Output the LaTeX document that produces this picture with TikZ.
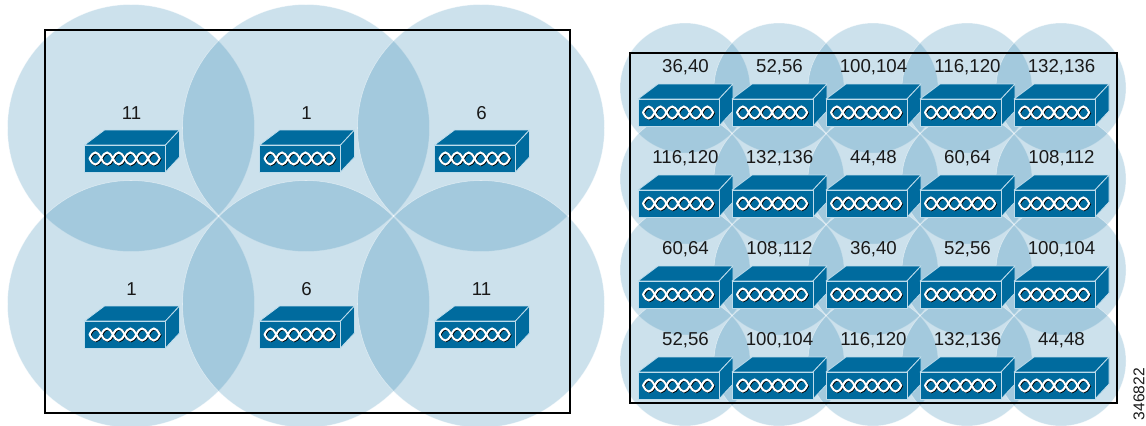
\documentclass[tikz,border=0pt]{standalone}
\usepackage{fontspec}
\setmainfont{Liberation Sans}
\definecolor{cellblue}{RGB}{0,105,160}
\definecolor{boxblue}{RGB}{0,107,158}
\definecolor{rimblue}{RGB}{190,220,235}

\tikzset{
  cell/.style={fill=cellblue,fill opacity=.2,draw=white,draw opacity=.5,line width=.4pt},
  frame/.style={draw=black,line width=1.5pt,outer sep=0pt,inner sep=0pt,anchor=north west},
  chan/.style={font=\fontsize{14}{16}\selectfont,inner sep=0pt,text=black!90},
  tag/.style={font=\fontsize{11.7}{14}\selectfont,inner sep=0pt,rotate=90,text=black!90},
  boxface/.style={fill=boxblue,draw=rimblue,line width=.6pt,line join=round},
  wave/.style={line width=1.5pt,white,line cap=round},
  waveback/.style={line width=1.5pt,black,line cap=round},
  switchbox/.pic={
    \draw [boxface] (0,0) -- (20,-15) -- (95,-15) -- (81,0) -- cycle;
    \draw [boxface] (81,0) -- (95,-15) -- (95,12) -- (81,27) -- cycle;
    \draw [boxface] (0,0) rectangle (81,27);
    \foreach \k in {0,...,5} {
      \draw [waveback,xshift=.6pt,yshift=-.5pt] (5+11.7*\k,13.5) .. controls (9+11.7*\k,5.5) and (12.7+11.7*\k,5.5) .. (16.7+11.7*\k,13.5) .. controls (12.7+11.7*\k,21.5) and (9+11.7*\k,21.5) .. (5+11.7*\k,13.5);
    }
    \foreach \k in {0,...,5} {
      \draw [wave] (5+11.7*\k,13.5) .. controls (9+11.7*\k,5.5) and (12.7+11.7*\k,5.5) .. (16.7+11.7*\k,13.5) .. controls (12.7+11.7*\k,21.5) and (9+11.7*\k,21.5) .. (5+11.7*\k,13.5);
    }
  }
}

\begin{document}
\begin{tikzpicture}[x=.75pt,y=-.75pt]
\useasboundingbox (0,0) rectangle (1146,425);
\clip (0,0) rectangle (1146,425);

% large cells
\foreach [count=\i] \a/\b/\t in {131/128/11, 306/128/1, 481/128/6, 131/304/1, 306/304/6, 481/304/11}
\draw [cell] (\a,\b) circle (123.5);

% small cells
\foreach \b in {88,179,270,361}
\foreach \a in {685,779,873,967,1061}
\draw [cell] (\a,\b) circle (65);

\node [frame,draw,minimum width=525*.75pt,minimum height=383*.75pt] (bandg) at (45,30) {};
\node [frame,draw,minimum width=487*.75pt,minimum height=350*.75pt] (banda) at (630,53) {};

\foreach [count=\i] \a/\b/\t in {131/128/11, 306/128/1, 481/128/6, 131/304/1, 306/304/6, 481/304/11} {
\pic at (\a-46.5,\b+17) {switchbox};
\node [chan] (g\i) at (\a+.5,\b-15) {\t};
}

\foreach [count=\i] \a/\b/\t in {
685/67/{36,40}, 779/67/{52,56}, 873/67/{100,104}, 967/67/{116,120}, 1061/67/{132,136},
685/158/{116,120}, 779/158/{132,136}, 873/158/{44,48}, 967/158/{60,64}, 1061/158/{108,112},
685/249/{60,64}, 779/249/{108,112}, 873/249/{36,40}, 967/249/{52,56}, 1061/249/{100,104},
685/340/{52,56}, 779/340/{100,104}, 873/340/{116,120}, 967/340/{132,136}, 1061/340/{44,48}} {
\pic at (\a-47,\b+32) {switchbox};
\node [chan] (a\i) at (\a+.5,\b) {\t};
}

\node [tag] (figid) at (1139,394) {346822};
\end{tikzpicture}
\end{document}
